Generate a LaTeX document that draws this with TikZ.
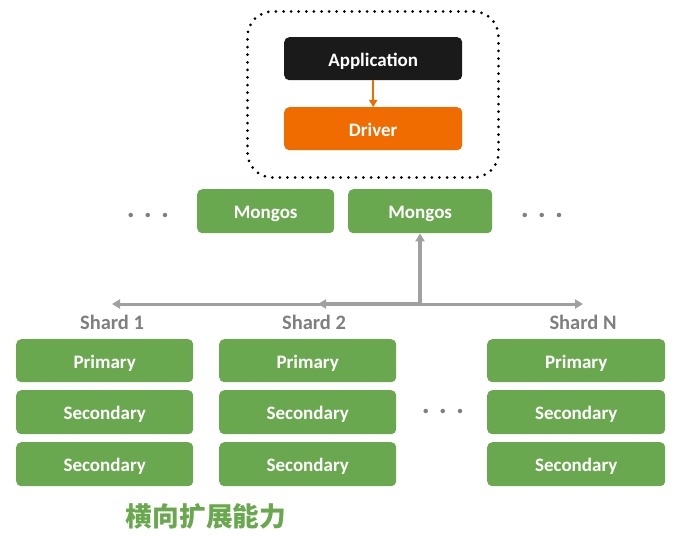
\documentclass[tikz,border=0pt]{standalone}
\usepackage{fontspec}
\setmainfont{Carlito}
\newfontfamily\cjk{Noto Sans CJK SC}
\usetikzlibrary{arrows.meta}
\definecolor{boxgreen}{HTML}{6AA84F}
\definecolor{boxorange}{HTML}{F06C00}
\definecolor{boxblack}{HTML}{1A1A1A}
\definecolor{linegray}{HTML}{A0A0A0}
\definecolor{labelgray}{HTML}{7F7F7F}
\begin{document}
\begin{tikzpicture}[x=1pt,y=-1pt,
  box/.style={rounded corners=5pt, text=white, font=\bfseries\fontsize{19}{22}\selectfont, inner sep=0pt, anchor=north west, text depth=0pt, text height=15pt},
  greenbox/.style={box, fill=boxgreen},
  shardlabel/.style={text=labelgray, font=\bfseries\fontsize{20.5}{23}\selectfont},
  dotsstyle/.style={text=labelgray, font=\bfseries\fontsize{30}{32}\selectfont},
  grayarrow/.style={draw=linegray, line width=3pt, -{Triangle[length=8pt,width=9pt]}}
]
\useasboundingbox (0,0) rectangle (679,537);
% client group
\node[draw=black, line width=3pt, line cap=round, dash pattern=on 0pt off 7.6pt, rounded corners=25pt, minimum width=251pt, minimum height=166pt, anchor=north west] (client) at (246,10) {};
\node[box, fill=boxblack, minimum width=178pt, minimum height=43pt] (app) at (284,37) {Application};
\node[box, fill=boxorange, minimum width=178pt, minimum height=43pt] (drv) at (284,107) {Driver};
\draw[draw=boxorange, line width=2.5pt, -{Triangle[length=7pt,width=8pt]}] (app.south) -- (drv.north);
% mongos
\node[greenbox, minimum width=137pt, minimum height=44pt] (m1) at (197,189) {Mongos};
\node[greenbox, minimum width=144pt, minimum height=44pt] (m2) at (348,189) {Mongos};
\node[dotsstyle] (dl) at (148,215) {. . .};
\node[dotsstyle] (dr) at (542,215) {. . .};
% router lines
\coordinate (j) at (420,304);
\coordinate (jl) at (112,304);
\coordinate (jr) at (583,304);
\coordinate (jm) at (318,304);
\draw[grayarrow] (j) -- (jl);
\draw[grayarrow] (j) -- (jr);
\draw[grayarrow, line width=4.5pt] (j) -- (jm);
\draw[grayarrow, line width=4.5pt] (j) -- (m2.south -| j);
% shards
\node[shardlabel] (s1) at (112,322) {Shard 1};
\node[shardlabel] (s2) at (314,322) {Shard 2};
\node[shardlabel] (sn) at (583,322) {Shard N};
\foreach \c/\x/\w in {a/16/177, b/219/177, c/487/178} {
  \node[greenbox, minimum width=\w pt, minimum height=43pt] (\c1) at (\x,339) {Primary};
  \node[greenbox, minimum width=\w pt, minimum height=44pt] (\c2) at (\x,390) {Secondary};
  \node[greenbox, minimum width=\w pt, minimum height=44pt] (\c3) at (\x,442) {Secondary};
}
\node[dotsstyle] (dm) at (443,411) {. . .};
\node[text=boxgreen, font=\cjk\bfseries\fontsize{26.7}{30}\selectfont] (title) at (206,516) {横向扩展能力};
\end{tikzpicture}
\end{document}
